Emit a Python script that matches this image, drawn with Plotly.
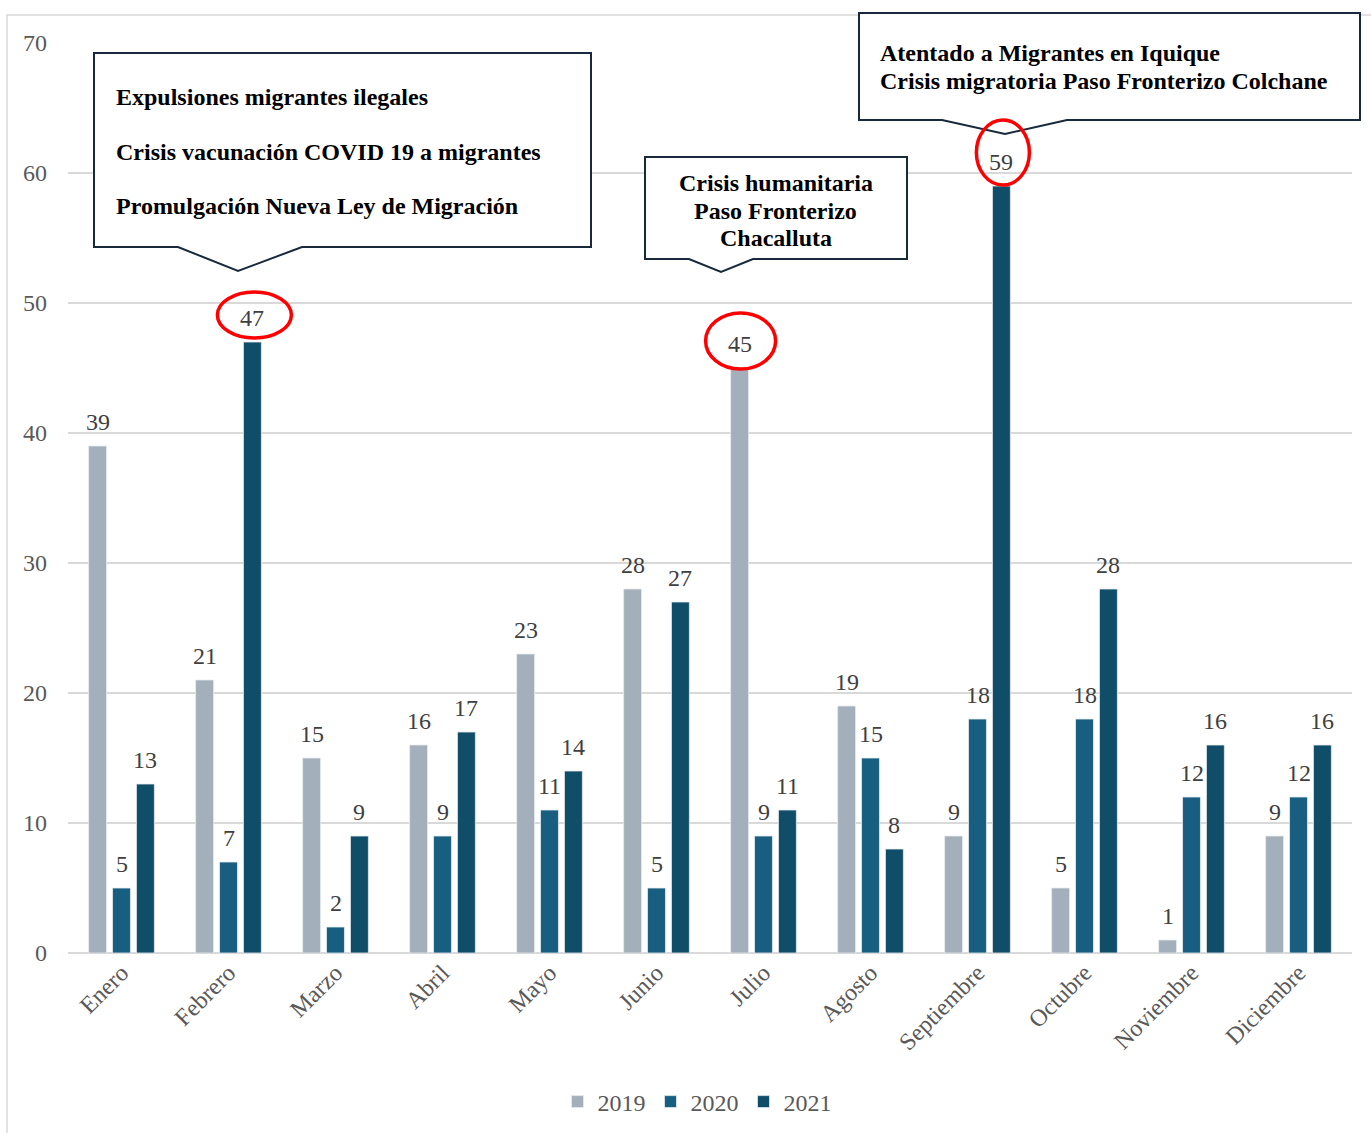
import plotly.graph_objects as go

# ---------------- data ----------------
months = ["Enero", "Febrero", "Marzo", "Abril", "Mayo", "Junio", "Julio",
          "Agosto", "Septiembre", "Octubre", "Noviembre", "Diciembre"]
series_names = ["2019", "2020", "2021"]
v2019 = [39, 21, 15, 16, 23, 28, 45, 19, 9, 5, 1, 9]
v2020 = [5, 7, 2, 9, 11, 5, 9, 15, 18, 18, 12, 12]
v2021 = [13, 47, 9, 17, 14, 27, 11, 8, 59, 28, 16, 16]
colors = ["#A3AFBA", "#175E80", "#104D69"]

callout1 = ["Expulsiones migrantes ilegales",
            "Crisis vacunación COVID 19 a migrantes",
            "Promulgación Nueva Ley de Migración"]
callout2 = ["Crisis humanitaria", "Paso Fronterizo", "Chacalluta"]
callout3 = ["Atentado a Migrantes en Iquique",
            "Crisis migratoria Paso Fronterizo Colchane"]

# highlighted (month index, series index)
highlights = [(1, 2), (6, 0), (8, 2)]

# ---------------- layout geometry ----------------
W, H = 1371, 1133
L, R, T, B = 68, 1352, 43, 953
BARGAP = 0.33
BARGROUPGAP = 0.25
FONT = "Liberation Serif"
FS = 24


def px(x):
    return (x - L) / (R - L)


def py(y):
    return (B - y) / (B - T)


cat_px = (R - L) / len(months)
slot_frac = (1 - BARGAP) / 3  # slot width in category units
slot_px = cat_px * slot_frac

series = [v2019, v2020, v2021]
fig = go.Figure()
for name, vals, col in zip(series_names, series, colors):
    fig.add_trace(go.Bar(
        x=months, y=vals, name=name,
        marker=dict(color=col, line=dict(color="#E6EBEF", width=0.8)),
    ))

annotations = []
# data labels
for j, vals in enumerate(series):
    for i, v in enumerate(vals):
        annotations.append(dict(
            x=months[i], y=v, xref="x", yref="y",
            text=str(v), showarrow=False,
            xshift=(j - 1) * slot_px, yshift=24,
            xanchor="center", yanchor="middle",
            font=dict(family=FONT, size=FS, color="#404040"),
        ))

shapes = []
# outer frame
shapes.append(dict(type="rect", xref="paper", yref="paper",
                   x0=px(7), x1=px(1390), y0=py(1150), y1=py(15),
                   line=dict(color="#D9D9D9", width=1.5), layer="below"))


def callout_path(x0, x1, ytop, ybot, p1, tx, ty, p2):
    pts = [(x0, ytop), (x1, ytop), (x1, ybot), (p2, ybot), (tx, ty), (p1, ybot), (x0, ybot)]
    s = "M " + " L ".join(f"{px(a):.5f},{py(b):.5f}" for a, b in pts) + " Z"
    return s


box_line = dict(color="#17293A", width=2)
shapes.append(dict(type="path", xref="paper", yref="paper",
                   path=callout_path(94, 591, 53, 247, 178, 238, 271, 302),
                   fillcolor="white", line=box_line))
shapes.append(dict(type="path", xref="paper", yref="paper",
                   path=callout_path(645, 907, 157, 259, 689, 721, 272, 753),
                   fillcolor="white", line=box_line))
shapes.append(dict(type="path", xref="paper", yref="paper",
                   path=callout_path(859, 1360, 13, 120, 942, 1005, 134, 1067),
                   fillcolor="white", line=box_line))

# red ellipses around highlighted labels (anchored to data)
ell = {(1, 2): (-35, 39, 4, 50), (6, 0): (-34, 36, -1, 55), (8, 2): (-25, 28, 1, 66)}
for (i, j) in highlights:
    x0, x1, y0, y1 = ell[(i, j)]
    shapes.append(dict(type="circle", xref="x", yref="y",
                       xsizemode="pixel", ysizemode="pixel",
                       xanchor=i + (j - 1) * slot_frac, yanchor=series[j][i],
                       x0=x0, x1=x1, y0=y0, y1=y1,
                       line=dict(color="#FF0000", width=3.5)))

box_font = dict(family=FONT, size=FS, color="black")
for t, yy in zip(callout1, [97, 152, 206]):
    annotations.append(dict(
        xref="paper", yref="paper", x=px(114), y=py(yy),
        xanchor="left", yanchor="middle", align="left", showarrow=False,
        text=f"<b>{t}</b>", font=box_font))
for t, yy in zip(callout2, [183, 211, 238]):
    annotations.append(dict(
        xref="paper", yref="paper", x=px(776), y=py(yy),
        xanchor="center", yanchor="middle", align="center", showarrow=False,
        text=f"<b>{t}</b>", font=box_font))
for t, yy in zip(callout3, [53, 81]):
    annotations.append(dict(
        xref="paper", yref="paper", x=px(878), y=py(yy),
        xanchor="left", yanchor="middle", align="left", showarrow=False,
        text=f"<b>{t}</b>", font=box_font))

fig.update_layout(
    width=W, height=H, autosize=False,
    margin=dict(l=L, r=W - R, t=T, b=H - B, pad=0, autoexpand=False),
    paper_bgcolor="white", plot_bgcolor="white",
    barmode="group", bargap=BARGAP, bargroupgap=BARGROUPGAP,
    font=dict(family=FONT, size=FS, color="#595959"),
    showlegend=True,
    legend=dict(orientation="h", x=px(697), y=py(1102), xanchor="center",
                yanchor="middle", font=dict(family=FONT, size=FS, color="#595959"),
                itemwidth=30, bgcolor="rgba(0,0,0,0)"),
    shapes=shapes,
    annotations=annotations,
    xaxis=dict(type="category", tickangle=-45, showgrid=False, showline=False,
               automargin=False,
               ticks="", tickfont=dict(family=FONT, size=FS, color="#595959")),
    yaxis=dict(range=[0, 70], dtick=10, showgrid=True, gridcolor="#D9D9D9",
               gridwidth=1.5, zeroline=True, zerolinecolor="#D9D9D9",
               zerolinewidth=2, showline=False, ticks="", automargin=False,
               ticklabelstandoff=20,
               tickfont=dict(family=FONT, size=FS, color="#595959")),
)

fig.write_html("out.html", config={"displayModeBar": False},
               post_script="document.body.style.margin='0';")
